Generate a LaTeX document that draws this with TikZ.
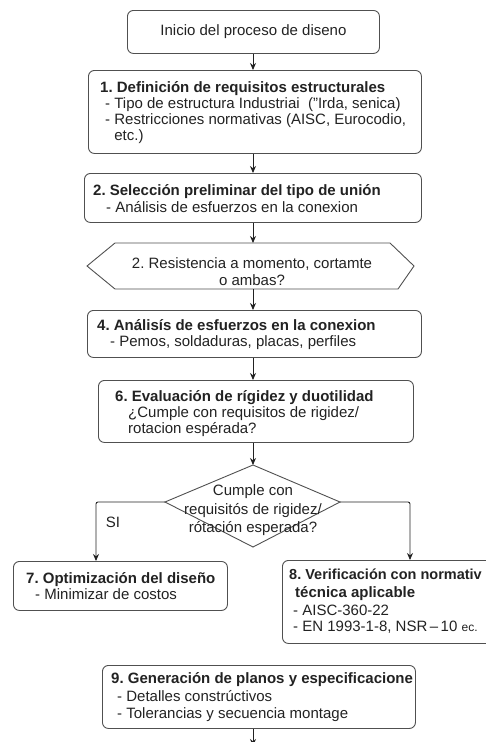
\documentclass[tikz,border=0pt]{standalone}
\usepackage{fontspec}
\setmainfont{Liberation Sans}
\usetikzlibrary{arrows.meta}
\definecolor{ink}{HTML}{222222}
\definecolor{edge}{HTML}{505050}
\begin{document}
\frenchspacing
\begin{tikzpicture}[x=1pt,y=-1pt,
  every node/.style={font=\fontsize{15}{16}\selectfont, text=ink},
  box/.style={draw=edge, line width=0.9pt, rounded corners=6pt, anchor=north west, inner sep=0pt},
  txt/.style={anchor=west, align=left, inner sep=0pt},
  conn/.style={draw=ink, line width=0.9pt, -{Stealth[length=7pt,width=6pt]}},
  outl/.style={draw=edge, line width=0.9pt}]
\clip (0,0) rectangle (486,742);
\useasboundingbox (0,0) rectangle (486,742);

\coordinate (ax) at (253,0);
\coordinate (lx) at (96,0);
\coordinate (rx) at (410,0);

% start
\node[box, minimum width=252pt, minimum height=43pt] (b0) at (127,10) {};
\node (t0) at (b0.center) {Inicio del proceso de diseno};

% 1
\node[box, minimum width=333pt, minimum height=83pt] (b1) at (88,70) {};
\node[txt] (t1) at (100,113) {\textbf{1. Definición de requisitos estructurales}\\
  \hspace*{5pt}- Tipo de estructura Industriai\ \ (\char"22 Irda, senica)\\
  \hspace*{5pt}- Restricciones normativas (AISC, Eurocodio,\\
  \hspace*{5pt}\phantom{- }etc.)};

% 2
\node[box, minimum width=337pt, minimum height=49pt] (b2) at (84,173) {};
\node[txt] (t2) at (93,199) {\textbf{2. Selección preliminar del tipo de unión}\\[1pt]
  \hspace*{13pt}- Análisis de esfuerzos en la conexion};

% hexagon
\coordinate (hT) at (253,243);
\coordinate (hB) at (253,289);
\draw[outl] (87,266) -- (115,243) -- (390,243) -- (414,266) -- (398,289) -- (115,289) -- cycle;
\node[align=center] (hex) at (252,271.5) {2. Resistencia a momento, cortamte\\[1pt]o ambas?};

% 4
\node[box, minimum width=334pt, minimum height=47pt] (b4) at (87,310) {};
\node[txt] (t4) at (97,335) {\textbf{4. Análisís de esfuerzos en la conexion}\\
  \hspace*{13pt}- Pemos, soldaduras, placas, perfiles};

% 6
\node[box, minimum width=315pt, minimum height=62pt] (b6) at (98,380) {};
\node[txt] (t6) at (115,414) {\textbf{6. Evaluación de rígidez y duotilidad}\\
  \hspace*{13pt}¿Cumple con requisitos de rigidez/\\
  \hspace*{13pt}rotacion espérada?};

% diamond
\coordinate (dT) at (253,465);
\coordinate (dL) at (165,502);
\coordinate (dR) at (340,502);
\coordinate (dB) at (253,547);
\draw[outl] (dT) -- (dR) -- (dB) -- (dL) -- cycle;
\node[align=center] (dia) at (253,510) {Cumple con\\[3pt]requisitós de rigidez/\\[2pt]rótación esperada?};

% 7
\node[box, minimum width=214pt, minimum height=49pt] (b7) at (13,561) {};
\node[txt] (t7) at (26,586) {\textbf{7. Optimización del diseño}\\
  \hspace*{9pt}- Minimizar de costos};

% 8
\node[box, minimum width=230pt, minimum height=83pt] (b8) at (282,560) {};
\node[txt] (t8) at (289,601) {{\fontsize{14.5}{16}\selectfont\textbf{8. Verificación con normativ}}\\[2pt]
  \hspace*{6pt}\textbf{técnica aplicable}\\[2pt]
  \hspace*{4pt}- AISC-360-22\\
  \hspace*{4pt}- EN 1993-1-8, NSR\,--\,10 {\fontsize{12}{14}\selectfont ec.}};

% 9
\node[box, minimum width=313pt, minimum height=63pt] (b9) at (102,665) {};
\node[txt] (t9) at (111,697) {\textbf{9. Generación de planos y especificacione}\\[2pt]
  \hspace*{6pt}- Detalles constrúctivos\\[1pt]
  \hspace*{6pt}- Tolerancias y secuencia montage};

\coordinate (endB) at (253,746);

% connectors
\draw[conn] (b0.south -| ax) -- (b1.north -| ax);
\draw[conn] (b1.south -| ax) -- (b2.north -| ax);
\draw[conn] (b2.south -| ax) -- (hT);
\draw[conn] (hB) -- (b4.north -| ax);
\draw[conn] (b4.south -| ax) -- (b6.north -| ax);
\draw[conn] (b6.south -| ax) -- (dT);
\draw[conn, rounded corners=2pt] (dL) -- (dL -| lx) -- (b7.north -| lx);
\draw[conn, rounded corners=2pt] (dR) -- (dR -| rx) -- (b8.north -| rx);
\draw[conn] (b9.south -| ax) -- (endB);

\node (si) at (113,522) {SI};
\end{tikzpicture}
\end{document}
